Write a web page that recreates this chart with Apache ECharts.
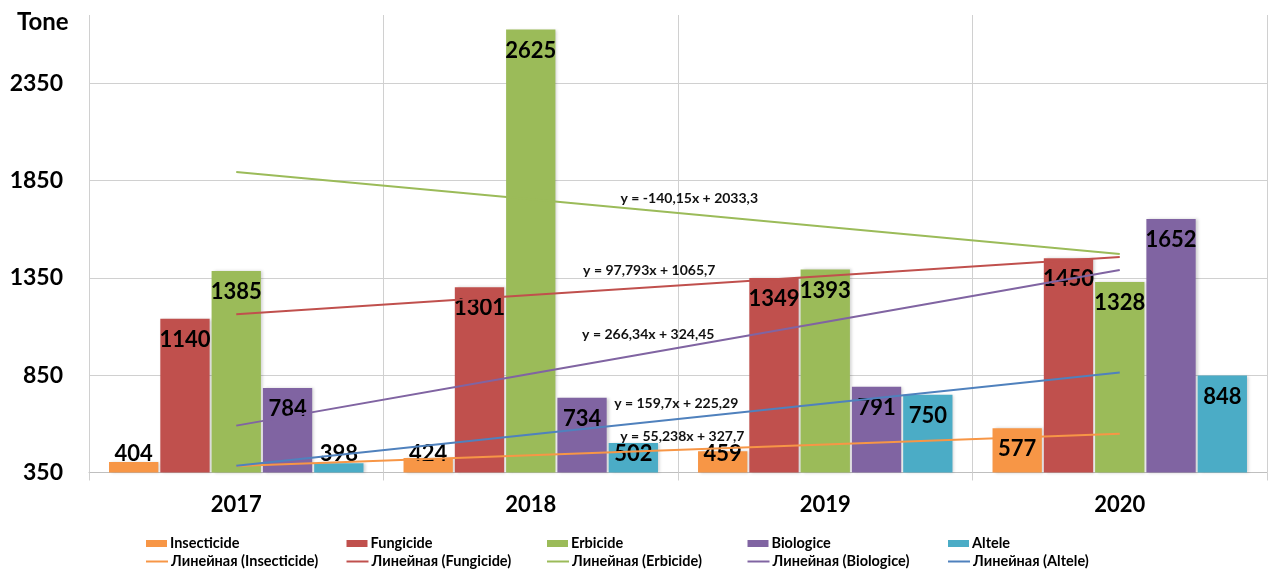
<!DOCTYPE html>
<html>
<head>
<meta charset="utf-8">
<script src="https://cdn.jsdelivr.net/npm/echarts@6/dist/echarts.min.js"></script>
<style>
	html, body { margin: 0; padding: 0; background: #ffffff; }
	#mainChart { width: 1276px; height: 571px; }
</style>
</head>
<body>
<div id="mainChart"></div>
<script>
	// date
	var years = ['2017', '2018', '2019', '2020'];
	var seriesNames = ['Insecticide', 'Fungicide', 'Erbicide', 'Biologice', 'Altele'];
	var insecticide = [404, 424, 459, 577];
	var fungicide = [1140, 1301, 1349, 1450];
	var erbicide = [1385, 2625, 1393, 1328];
	var biologice = [784, 734, 791, 1652];
	var altele = [398, 502, 750, 848];
	// linii de tendinta (y = a*x + b, x = 1..4)
	var trendSlope = [55.238, 97.793, -140.15, 266.34, 159.7];
	var trendIntercept = [327.7, 1065.7, 2033.3, 324.45, 225.29];
	var trendText = ['y = 55,238x + 327,7', 'y = 97,793x + 1065,7', 'y = -140,15x + 2033,3',
		'y = 266,34x + 324,45', 'y = 159,7x + 225,29'];
	var yTicks = [350, 850, 1350, 1850, 2350];

	var FONT = 'Lato';
	var barColors = ['#F79646', '#C0504D', '#9BBB59', '#8064A2', '#4BACC6'];
	var lineColors = ['#F79646', '#C0504D', '#9BBB59', '#8064A2', '#4F81BD'];
	// pozitia textului ecuatiei fata de punctul 2019
	var eqOffset = [[-143, -8], [-176, -6], [-136, -28], [-177, 13], [-149, 0]];

	function barData(values) {
		var out = [];
		for (var i = 0; i < values.length; i++) {
			var small = values[i] < 560;
			out.push({
				value: values[i],
				label: {
					position: small ? 'insideBottom' : 'insideTop',
					distance: small ? 8 : 10
				}
			});
		}
		return out;
	}

	function trendData(k) {
		var out = [];
		for (var i = 0; i < years.length; i++) {
			var item = { value: trendSlope[k] * (i + 1) + trendIntercept[k] };
			if (i === 2) {
				item.label = {
					show: true,
					position: 'inside',
					offset: eqOffset[k],
					formatter: trendText[k],
					fontFamily: FONT,
					fontWeight: 'bold',
					fontSize: 14,
					color: '#111'
				};
			}
			out.push(item);
		}
		return out;
	}

	var myChart = echarts.init(document.getElementById('mainChart'), null, { renderer: 'canvas' });
	var barValues = [insecticide, fungicide, erbicide, biologice, altele];
	var series = [];
	var legends = [];

	for (var s = 0; s < seriesNames.length; s++) {
		series.push({
			name: seriesNames[s],
			type: 'bar',
			barGap: '4%',
			barCategoryGap: '13.6%',
			data: barData(barValues[s]),
			itemStyle: {
				color: barColors[s],
				shadowColor: 'rgba(0,0,0,0.18)',
				shadowBlur: 3,
				shadowOffsetX: 2
			},
			label: {
				show: true,
				fontFamily: FONT,
				fontWeight: 'bold',
				fontSize: 22,
				color: '#000'
			},
			z: 2
		});
	}
	for (var t = 0; t < seriesNames.length; t++) {
		series.push({
			name: 'Линейная (' + seriesNames[t] + ')',
			type: 'line',
			data: trendData(t),
			symbol: 'circle',
			symbolSize: 0,
			showSymbol: true,
			lineStyle: { color: lineColors[t], width: 2 },
			itemStyle: { color: lineColors[t] },
			z: 3
		});
	}

	for (var c = 0; c < seriesNames.length; c++) {
		legends.push({
			data: [{ name: seriesNames[c], icon: 'rect' }],
			left: 146 + 200.5 * c,
			top: 536,
			itemWidth: 21,
			itemHeight: 7,
			itemGap: 0,
			padding: 0,
			textStyle: { fontFamily: FONT, fontWeight: 'bold', fontSize: 14.5, color: '#000', padding: [0, 0, 0, -2] }
		});
		legends.push({
			data: [{ name: 'Линейная (' + seriesNames[c] + ')', icon: 'rect' }],
			left: 146 + 200.5 * c,
			top: 554,
			itemWidth: 22,
			itemHeight: 2,
			itemGap: 0,
			padding: 0,
			textStyle: { fontFamily: FONT, fontWeight: 'bold', fontSize: 14.5, color: '#000', padding: [0, 0, 0, -2] }
		});
	}

	var option = {
		backgroundColor: '#ffffff',
		animation: false,
		title: {
			text: 'Tone',
			left: 12,
			top: 5,
			textStyle: { fontFamily: FONT, fontWeight: 'bold', fontSize: 24, color: '#000' }
		},
		legend: legends,
		grid: { left: 89, right: 9, top: 15, bottom: 98.5 },
		xAxis: {
			type: 'category',
			data: years,
			axisLine: { show: true, lineStyle: { color: '#bfbfbf', width: 1 } },
			axisTick: { show: true, length: 8, lineStyle: { color: '#d0d0d0' } },
			splitLine: { show: true, lineStyle: { color: '#d0d0d0', width: 1 } },
			axisLabel: { margin: 21, fontFamily: FONT, fontWeight: 'bold', fontSize: 22, color: '#000' }
		},
		yAxis: {
			type: 'value',
			min: yTicks[0],
			max: 2700,
			interval: 500,
			axisLine: { show: false },
			axisTick: { show: false },
			splitLine: {
				show: true,
				lineStyle: { color: ['#d0d0d0', '#d0d0d0', '#d0d0d0', '#d0d0d0', '#d0d0d0', 'rgba(0,0,0,0)'], width: 1 }
			},
			axisLabel: {
				margin: 26,
				fontFamily: FONT,
				fontWeight: 'bold',
				fontSize: 23,
				color: '#000',
				showMaxLabel: false,
				formatter: function (v) { return yTicks.indexOf(v) >= 0 ? String(v) : ''; }
			}
		},
		series: series
	};
	myChart.setOption(option, true);
</script>
</body>
</html>
